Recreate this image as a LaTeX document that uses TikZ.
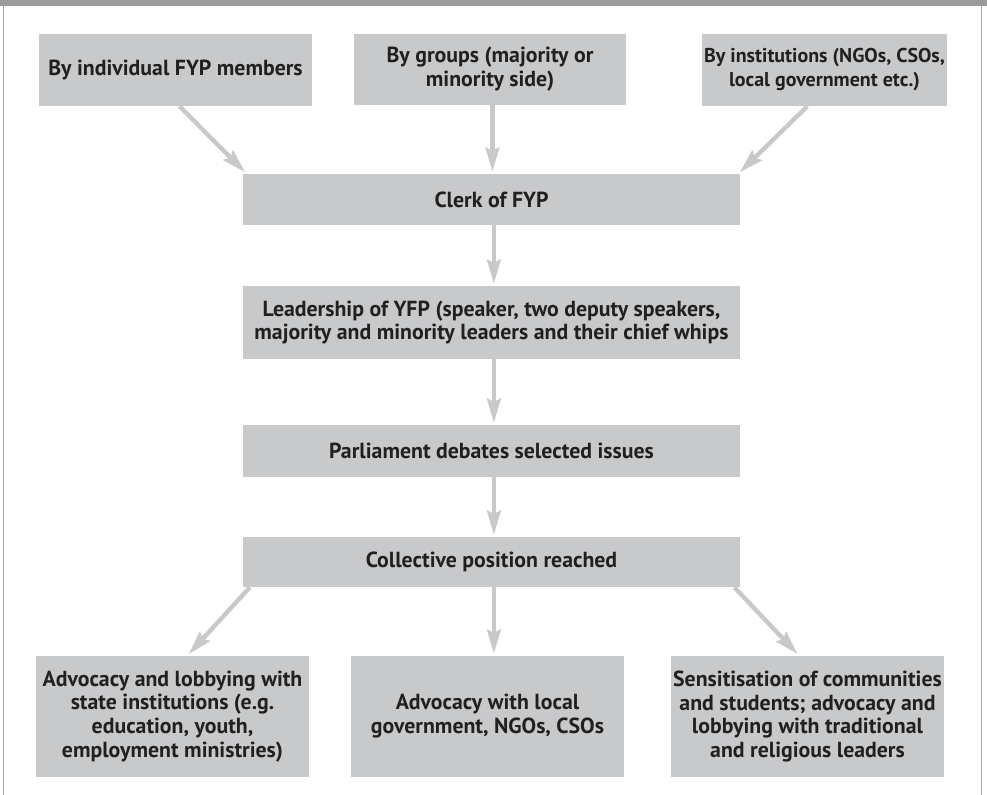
\documentclass[tikz,border=0pt]{standalone}
\usepackage{fontspec}
\setmainfont{PT Sans}
\usetikzlibrary{arrows.meta}
\definecolor{boxgray}{HTML}{C8C9CB}
\definecolor{bargray}{HTML}{9A9B9D}
\definecolor{linegray}{HTML}{A7A8AA}
\definecolor{inkcol}{HTML}{231F20}
\tikzset{
  box/.style={fill=boxgray, inner sep=0pt, align=center, text=inkcol,
    font=\fontsize{15.5}{17}\selectfont\bfseries},
  arr/.style={draw=boxgray, line width=0.11cm, shorten >=0.05cm,
    -{Stealth[length=0.6cm, width=0.34cm, inset=0.08cm]}}
}
\begin{document}
\begin{tikzpicture}[x=0.025cm, y=-0.025cm]
  \useasboundingbox (0, 0) rectangle (987, 795);
  \fill [bargray] (0, 0) rectangle (987, 6);
  \draw [linegray, line width=0.04cm] (3.5, 6) -- (3.5, 795);
  \draw [linegray, line width=0.04cm] (981.5, 6) -- (981.5, 795);

  \node [box, minimum width=6.825cm, minimum height=1.8cm] (indiv) at (175.5, 70) {By individual FYP members};
  \node [box, minimum width=6.8cm, minimum height=1.775cm] (groups) at (490, 69.5) {By groups (majority or\\minority side)};
  \node [box, minimum width=6.125cm, minimum height=1.8cm, font=\fontsize{14.2}{17}\selectfont\bfseries] (instit) at (824.5, 70) {By institutions (NGOs, CSOs,\\local government etc.)};

  \node [box, minimum width=12.425cm, minimum height=1.275cm] (clerk) at (491.5, 199.5) {Clerk of FYP};
  \node [box, minimum width=12.425cm, minimum height=1.825cm] (leader) at (491.5, 322.5) {Leadership of YFP (speaker, two deputy speakers,\\majority and minority leaders and their chief whips};
  \node [box, minimum width=12.425cm, minimum height=1.3cm] (debate) at (491.5, 451) {Parliament debates selected issues};
  \node [box, minimum width=12.425cm, minimum height=1.25cm] (position) at (491.5, 562) {Collective position reached};

  \node [box, minimum width=6.825cm, minimum height=3.025cm] (state) at (172.5, 716.5) {Advocacy and lobbying with\\state institutions (e.g.\\education, youth,\\employment ministries)};
  \node [box, minimum width=6.825cm, minimum height=3.025cm] (local) at (487.5, 716.5) {Advocacy with local\\government, NGOs, CSOs};
  \node [box, minimum width=6.825cm, minimum height=3.025cm] (commun) at (807.5, 716.5) {Sensitisation of communities\\and students; advocacy and\\lobbying with traditional\\and religious leaders};

  \draw [arr] ([xshift=0.1cm]indiv.south) -- ([xshift=0.1cm]clerk.north west);
  \draw [arr] ([xshift=0.06cm]groups.south) -- ([xshift=0.06cm]groups.south |- clerk.north);
  \draw [arr] ([xshift=-0.43cm]instit.south) -- ([xshift=-0.05cm]clerk.north east);
  \draw [arr] ([xshift=0.06cm]clerk.south) -- ([xshift=0.06cm]leader.north);
  \draw [arr] ([xshift=0.06cm]leader.south) -- ([xshift=0.06cm]debate.north);
  \draw [arr] ([xshift=0.06cm]debate.south) -- ([xshift=0.06cm]position.north);
  \draw [arr] ([xshift=0.18cm]position.south west) -- ([xshift=0.37cm]state.north);
  \draw [arr] ([xshift=0.06cm]position.south) -- ([xshift=0.06cm]position.south |- local.north);
  \draw [arr] ([xshift=-0.15cm]position.south east) -- ([xshift=-0.21cm]commun.north);
\end{tikzpicture}
\end{document}
